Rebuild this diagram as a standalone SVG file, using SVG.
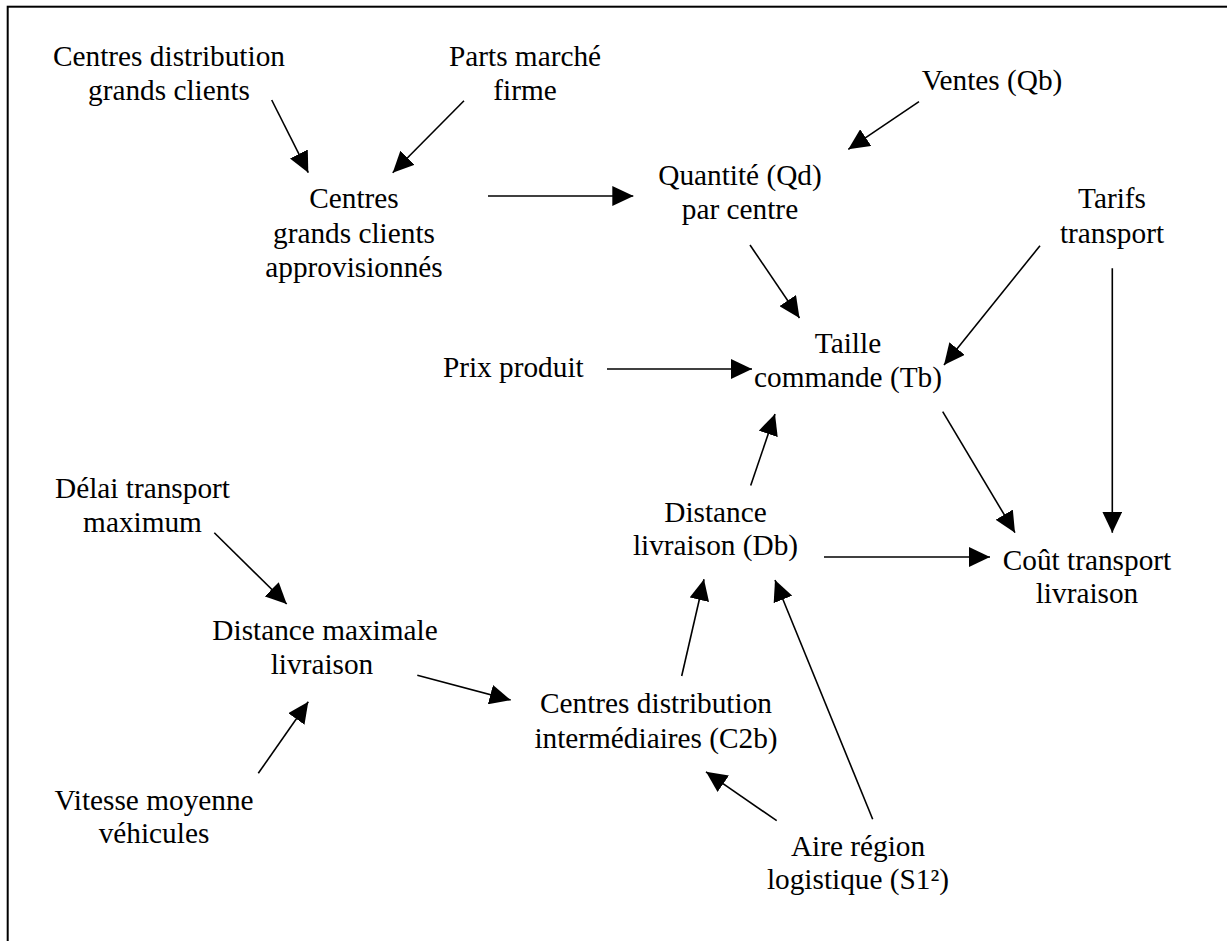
<svg xmlns="http://www.w3.org/2000/svg" width="1227" height="941" viewBox="0 0 1227 941">
  <style>
    .lbl { font-family: "Liberation Serif", "Times New Roman", serif; font-size: 29.3px; fill: #000; text-anchor: middle; }
    .edge { stroke: #000; stroke-width: 1.6; fill: none; marker-end: url(#head); }
  </style>
  <defs>
    <marker id="head" markerUnits="userSpaceOnUse" markerWidth="21" markerHeight="20" refX="21" refY="10" orient="auto">
      <path d="M0,0 L21,10 L0,20 Z" fill="#000"/>
    </marker>
  </defs>

  <rect x="0" y="0" width="1227" height="941" fill="#fff"/>
  <!-- frame (open towards right and bottom) -->
  <rect x="7.7" y="6.7" width="1240" height="960" fill="none" stroke="#000" stroke-width="2"/>

  <g id="n-centres-distribution-grands-clients">
    <text class="lbl" x="169" y="66">Centres distribution</text>
    <text class="lbl" x="169" y="99.5">grands clients</text>
  </g>
  <g id="n-parts-marche">
    <text class="lbl" x="525" y="66">Parts marché</text>
    <text class="lbl" x="525" y="99.5">firme</text>
  </g>
  <g id="n-centres-approvisionnes">
    <text class="lbl" x="354" y="208.3">Centres</text>
    <text class="lbl" x="354" y="242.6">grands clients</text>
    <text class="lbl" x="354" y="276.8">approvisionnés</text>
  </g>
  <g id="n-ventes">
    <text class="lbl" x="992" y="89.5">Ventes (Qb)</text>
  </g>
  <g id="n-quantite">
    <text class="lbl" x="740" y="185">Quantité (Qd)</text>
    <text class="lbl" x="740" y="219">par centre</text>
  </g>
  <g id="n-tarifs">
    <text class="lbl" x="1112" y="208.3">Tarifs</text>
    <text class="lbl" x="1112" y="242.6">transport</text>
  </g>
  <g id="n-prix">
    <text class="lbl" x="513.3" y="377.3">Prix produit</text>
  </g>
  <g id="n-taille">
    <text class="lbl" x="848" y="353">Taille</text>
    <text class="lbl" x="848" y="387">commande (Tb)</text>
  </g>
  <g id="n-distance-livraison">
    <text class="lbl" x="715.5" y="521.7">Distance</text>
    <text class="lbl" x="715.5" y="555">livraison (Db)</text>
  </g>
  <g id="n-cout">
    <text class="lbl" x="1087" y="569.5">Coût transport</text>
    <text class="lbl" x="1087" y="603">livraison</text>
  </g>
  <g id="n-delai">
    <text class="lbl" x="142.5" y="498.3">Délai transport</text>
    <text class="lbl" x="142.5" y="531.7">maximum</text>
  </g>
  <g id="n-distance-maximale">
    <text class="lbl" x="325" y="640">Distance maximale</text>
    <text class="lbl" x="322" y="674">livraison</text>
  </g>
  <g id="n-vitesse">
    <text class="lbl" x="154" y="810">Vitesse moyenne</text>
    <text class="lbl" x="154" y="843.3">véhicules</text>
  </g>
  <g id="n-c2b">
    <text class="lbl" x="656" y="713.3">Centres distribution</text>
    <text class="lbl" x="656" y="747.8">intermédiaires (C2b)</text>
  </g>
  <g id="n-aire">
    <text class="lbl" x="858" y="855.8">Aire région</text>
    <text class="lbl" x="858" y="889.2">logistique (S1²)</text>
  </g>

  <g id="connectors">
    <line class="edge" x1="271.7" y1="100" x2="308.3" y2="172.7"/>
    <line class="edge" x1="464" y1="100.7" x2="392.7" y2="172.7"/>
    <line class="edge" x1="488" y1="196" x2="633.3" y2="196"/>
    <line class="edge" x1="919" y1="101.7" x2="848.3" y2="149.3"/>
    <line class="edge" x1="750" y1="245" x2="799.5" y2="318"/>
    <line class="edge" x1="1040" y1="245.7" x2="944" y2="365"/>
    <line class="edge" x1="1112.3" y1="268.3" x2="1112.3" y2="532.7"/>
    <line class="edge" x1="942.7" y1="411.7" x2="1015" y2="532.7"/>
    <line class="edge" x1="607" y1="369" x2="752" y2="369"/>
    <line class="edge" x1="750.7" y1="485.5" x2="775" y2="414"/>
    <line class="edge" x1="824" y1="557" x2="990" y2="557"/>
    <line class="edge" x1="214.3" y1="532.7" x2="286.7" y2="604"/>
    <line class="edge" x1="258.3" y1="773.3" x2="308.3" y2="701.7"/>
    <line class="edge" x1="417.3" y1="675.2" x2="510.7" y2="700"/>
    <line class="edge" x1="681.7" y1="676" x2="704" y2="579.3"/>
    <line class="edge" x1="872.7" y1="819.3" x2="775" y2="580"/>
    <line class="edge" x1="776.7" y1="820.7" x2="706" y2="771.8"/>
  </g>
</svg>
